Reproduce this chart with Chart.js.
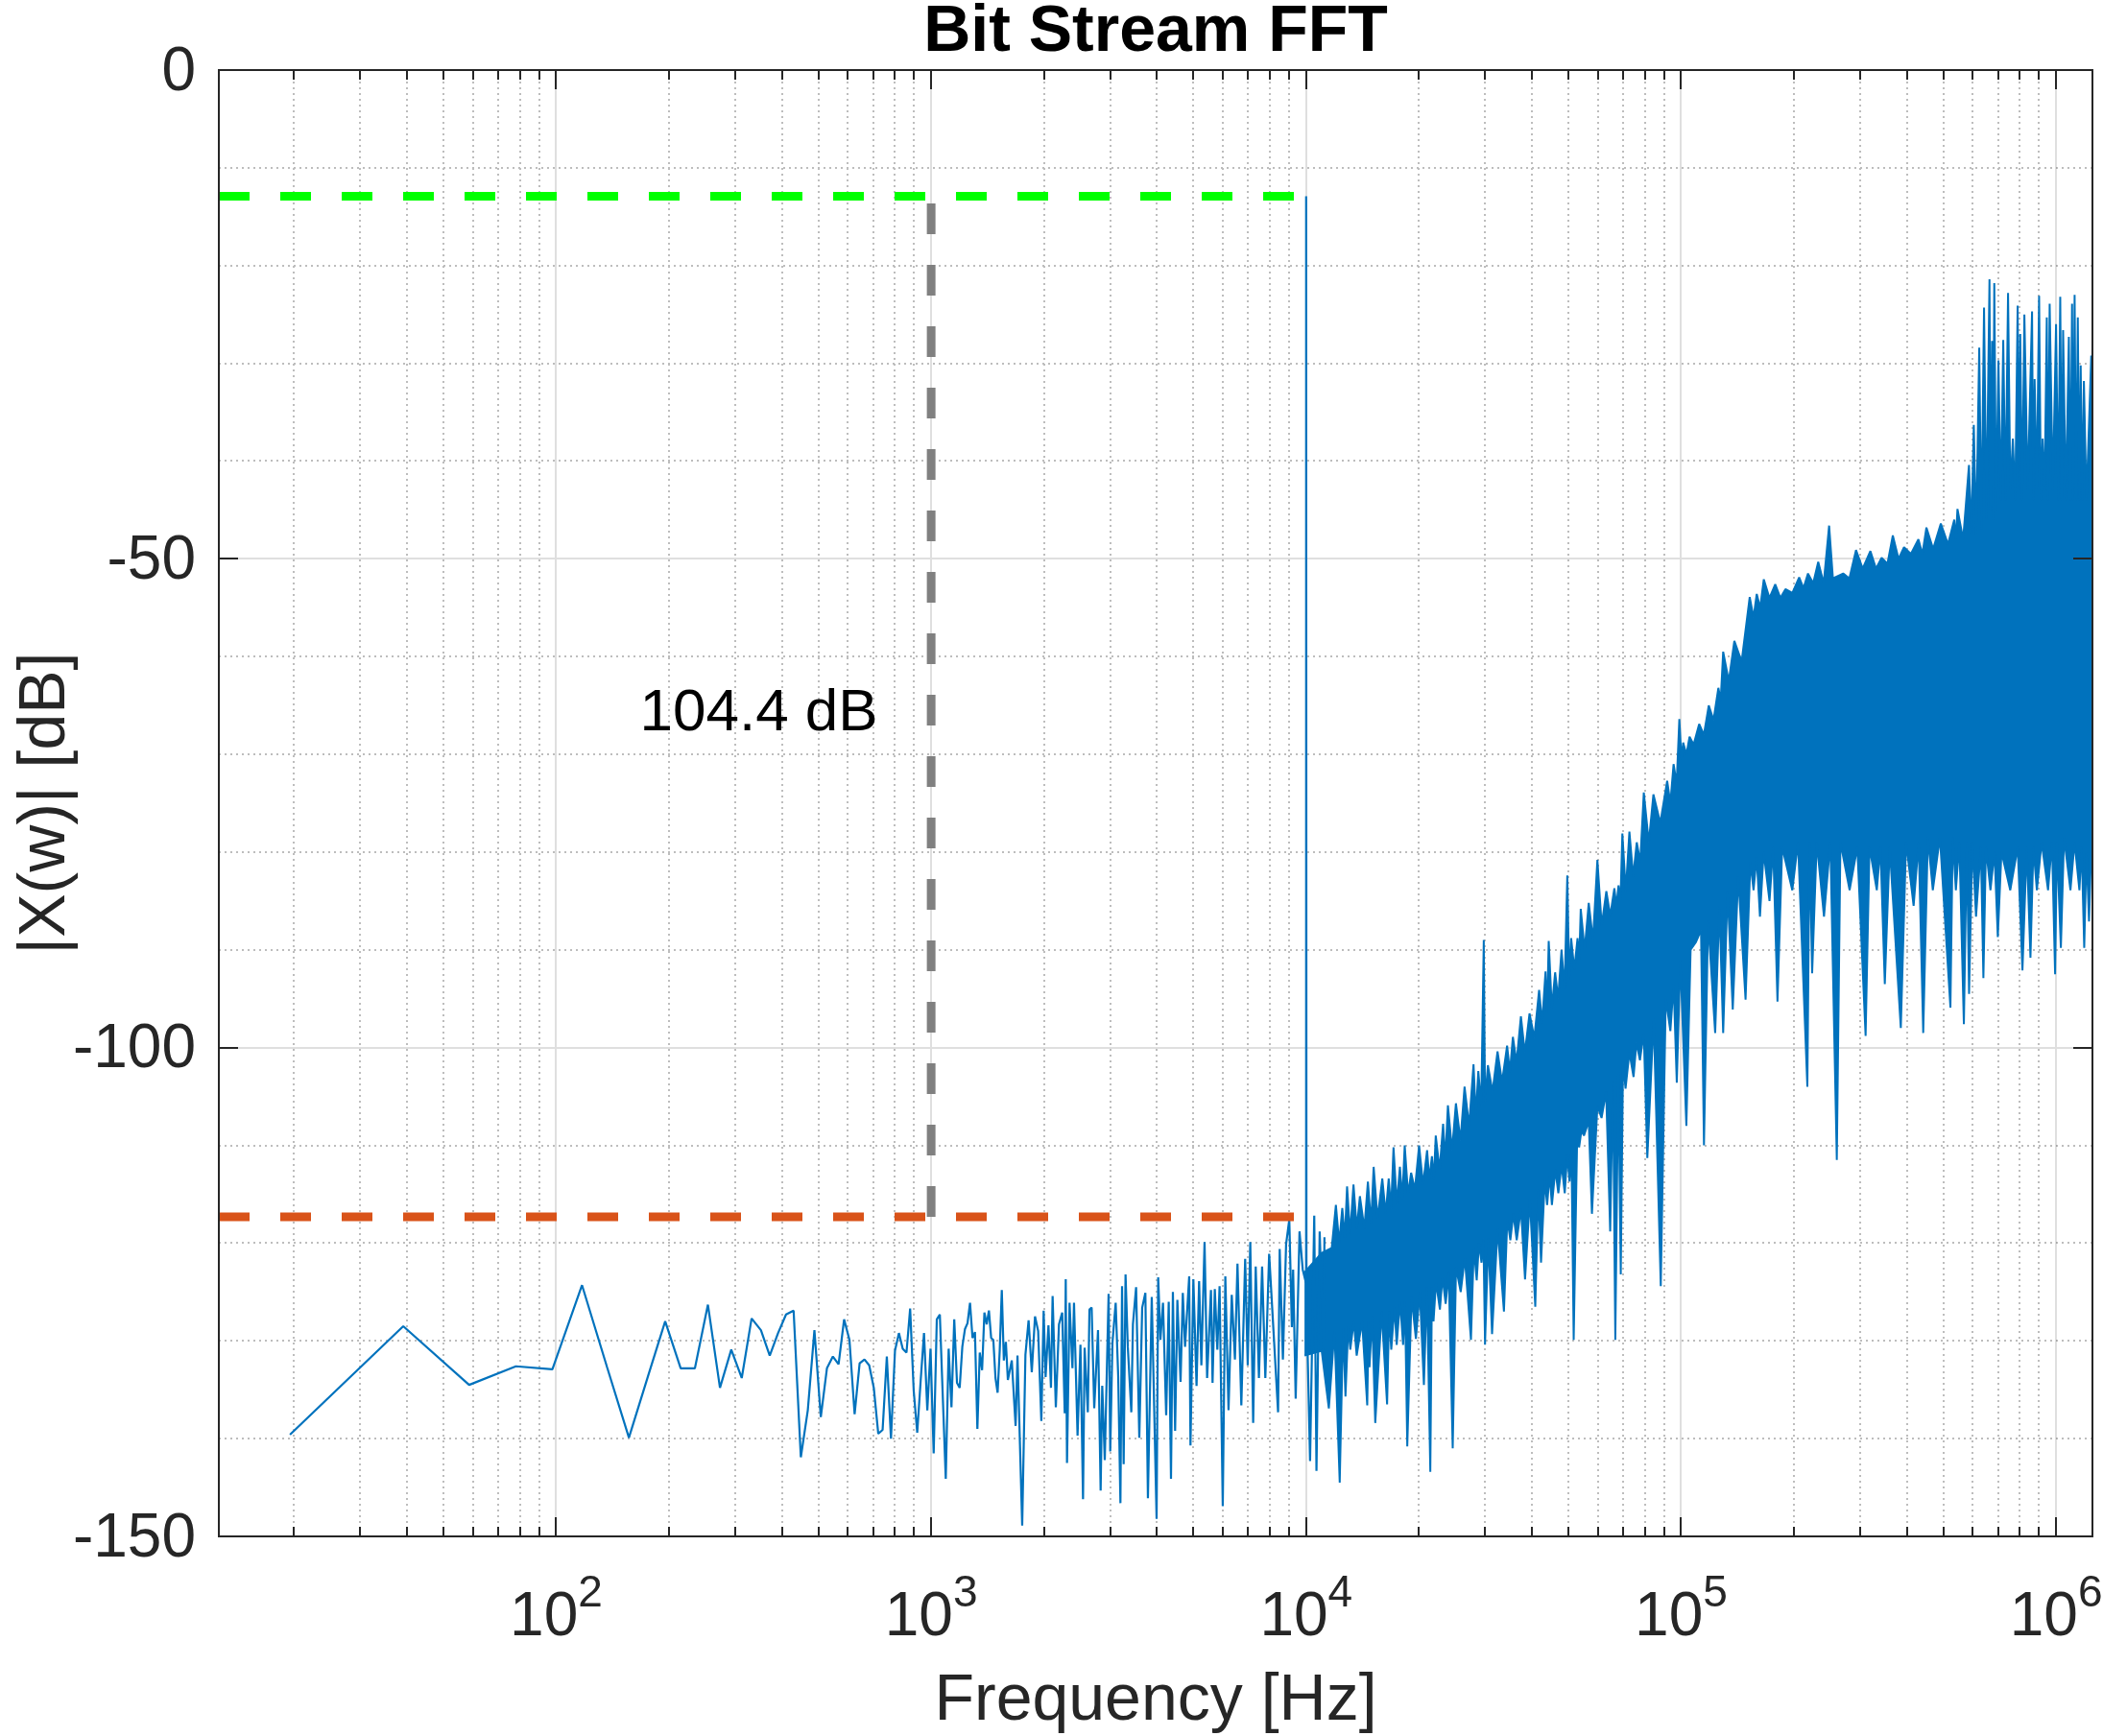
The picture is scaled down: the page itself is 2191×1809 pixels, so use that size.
<!DOCTYPE html>
<html>
<head>
<meta charset="utf-8">
<title>Bit Stream FFT</title>
<script src="https://cdn.jsdelivr.net/npm/chart.js@4.4.1/dist/chart.umd.min.js"></script>
<style>
  html, body { margin: 0; padding: 0; background: #fff; }
  canvas { display: block; }
</style>
</head>
<body>
<canvas id="chartFft" width="2191" height="1809"></canvas>
<script>
// ---- data ----
// axis limits and tick labels
const xMin = 12.6;
const xMax = 1.25e6;
const xDecades = [2, 3, 4, 5, 6];
const yTicks = [0, -50, -100, -150];
const yMinorTicks = [-10, -20, -30, -40, -60, -70, -80, -90, -110, -120, -130, -140];

// signal / noise floor markers
const peakDb = -12.9;
const floorDb = -117.3;
const toneFreq = 10000;
const markFreq = 1000;
const noteText = '104.4 dB';
const noteFreq = 167;
const noteDb = -67.5;

// low bins (every FFT bin is visible here)
const binFreq = [
  19.5, 39.1, 58.6, 78.1, 97.7, 117.2, 136.7, 156.3, 175.8, 195.3,
  214.8, 234.4, 253.9, 273.4, 293.0, 312.5, 332.0, 351.6, 371.1, 390.6,
  410.2, 429.7, 449.2, 468.8, 488.3, 507.8, 527.3, 546.9, 566.4, 585.9,
  605.5, 625.0, 644.5, 664.1, 683.6, 703.1, 722.7, 742.2, 761.7, 781.3,
  800.8, 820.3, 839.8, 859.4, 878.9, 898.4, 918.0, 937.5, 957.0, 976.6,
  996.1, 1015.6, 1035.2, 1054.7, 1074.2, 1093.8, 1113.3, 1132.8, 1152.3, 1171.9,
  1191.4, 1210.9, 1230.5, 1250.0, 1269.5, 1289.1, 1308.6, 1328.1, 1347.7, 1367.2,
  1386.7, 1406.3, 1425.8, 1445.3, 1464.8, 1484.4, 1503.9, 1523.4, 1543.0, 1562.5,
  1582.0, 1601.6, 1640.6, 1679.7, 1699.2
];
const binDb = [
  -139.6, -128.5, -134.5, -132.6, -132.9, -124.3, -132.7, -139.9, -133.6, -128.0,
  -132.8, -132.8, -126.3, -134.8, -130.9, -133.8, -127.7, -128.9, -131.5, -129.2,
  -127.3, -126.9, -141.9, -137.1, -128.9, -137.8, -132.8, -131.6, -132.4, -127.8,
  -129.9, -137.5, -132.3, -131.9, -132.5, -134.8, -139.5, -139.1, -131.6, -140.0,
  -131.0, -129.2, -130.8, -131.2, -126.7, -135.1, -139.4, -134.1, -129.2, -137.1,
  -130.8, -141.5, -127.8, -127.3, -135.8, -144.1, -130.8, -136.8, -127.8, -134.3,
  -134.8, -130.6, -128.8, -128.2, -126.1, -129.7, -129.1, -139.0, -131.2, -133.0,
  -127.1, -128.3, -126.9, -129.7, -129.9, -133.8, -135.3, -131.0, -124.8, -132.0,
  -130.1, -134.0, -132.0, -138.7, -131.5
];

// 1.7 kHz - 11 kHz: visible peaks and troughs, with the 10 kHz tone
const midFreq = [
  1749, 1784, 1819, 1855, 1892, 1929, 1967, 1995, 2019, 2055,
  2087, 2108, 2150, 2192, 2236, 2271, 2285, 2303, 2339, 2381,
  2404, 2457, 2501, 2541, 2566, 2617, 2643, 2679, 2722, 2786,
  2831, 2859, 2904, 2973, 3003, 3044, 3105, 3154, 3197, 3229,
  3261, 3299, 3345, 3418, 3452, 3520, 3590, 3654, 3726, 3785,
  3875, 3992, 4031, 4087, 4152, 4234, 4301, 4361, 4412, 4473,
  4535, 4625, 4689, 4754, 4877, 4915, 5003, 5102, 5183, 5255,
  5359, 5444, 5574, 5629, 5707, 5797, 5877, 5993, 6088, 6209,
  6333, 6458, 6560, 6717, 6877, 6986, 7096, 7223, 7337, 7483,
  7631, 7783, 7968, 8418, 8501, 8670, 8842, 9017, 9160, 9232,
  9378, 9601, 9792, 9980, 10000, 10020, 10245, 10510, 10655, 10866,
  11124, 11190
];
const midDb = [
  -148.9, -131.4, -127.9, -133.2, -127.5, -129.0, -138.2, -126.9, -133.7, -128.4,
  -134.8, -125.4, -136.8, -128.3, -127.1, -137.4, -123.7, -142.5, -126.1, -132.8,
  -126.1, -139.7, -130.4, -146.2, -130.7, -137.3, -126.8, -126.6, -136.9, -128.9,
  -145.3, -134.6, -142.2, -125.2, -141.3, -130.2, -126.1, -133.7, -146.6, -124.4,
  -142.6, -123.2, -130.6, -137.3, -128.3, -124.5, -139.9, -126.6, -125.1, -146.1,
  -125.5, -148.2, -123.5, -129.9, -126.1, -137.6, -126.0, -144.1, -125.0, -139.2,
  -125.8, -134.2, -125.1, -130.6, -123.4, -140.7, -123.7, -134.6, -123.9, -132.5,
  -119.9, -133.8, -124.8, -134.3, -124.7, -130.9, -124.4, -146.9, -123.4, -137.1,
  -125.3, -131.9, -122.1, -136.6, -121.6, -132.5, -119.9, -138.4, -122.4, -133.8,
  -122.4, -133.8, -121.1, -137.3, -120.6, -131.9, -120.1, -117.6, -128.6, -122.7,
  -135.9, -118.8, -122.7, -124.0, -12.9, -126.0, -142.3, -117.2, -143.3, -118.8,
  -130.9, -119.4
];

// dense part (10 kHz - 1.25 MHz): upper edge of the blue mass, spike tips and notches
const upperFreq = [
  9900, 11000, 11700, 12004, 12250, 12485, 12680, 12858,
  13100, 13374, 13650, 13910, 14300, 14611, 14900, 15137, 15500, 15962,
  16300, 16603, 16850, 17100, 17450, 17785, 18050, 18317, 18700, 19051,
  19500, 20011, 20500, 21018, 21300, 21647, 21900, 22164, 22700, 23188,
  23500, 23883, 24500, 25085, 25800, 26452, 27200, 27949, 28350, 28784,
  29300, 29764, 30000, 30530, 31400, 32390, 33300, 34350, 34950, 35590,
  36400, 37390, 38300, 39420, 40600, 41810, 42600, 43490, 43900, 44350,
  45200, 46130, 47000, 47980, 48900, 49710, 50300, 50900, 51900, 52940,
  53500, 53990, 55300, 56710, 58200, 59800, 61400, 63180, 64700, 66370,
  67200, 68090, 68900, 69710, 71200, 72790, 74500, 76150, 77800, 79520,
  82000, 84350, 88000, 91790, 93600, 95470, 97300, 98910, 100200, 101260,
  103300, 105320, 108000, 111720, 115000, 118500, 122000, 125700, 127500, 129470,
  134000, 138660, 145000, 152370, 156000, 159100, 162500, 166140, 172000, 178230,
  184000, 189760, 198000, 206440, 212000, 217950, 225000, 232090, 240000, 248140,
  254000, 270550, 281000, 292680, 305000, 319740, 331000, 342520, 355000, 366900,
  380000, 393020, 410000, 429370, 440000, 451000, 470000, 492700, 515000, 535100,
  540500, 545720, 565000, 585750, 594000, 603270, 612000, 623760, 632000, 642430,
  652000, 664260, 669000, 674780, 679000, 684130, 692000, 701850, 712000, 722840,
  733000, 744480, 755000, 766750, 778000, 789700, 796000, 802220, 812000, 822980,
  840000, 862730, 869000, 876400, 888000, 900860, 911000, 920550, 932000, 944380,
  952000, 961220, 980000, 999770, 1013000, 1025700, 1035000, 1043900, 1062000, 1081500,
  1092000, 1102900, 1110000, 1120400, 1131000, 1142600, 1153000, 1163000, 1174000, 1186100,
  1205000, 1241000, 1246000, 1250000
];
const upperDb = [
  -123.0, -121.0, -120.5, -116.1, -120.0, -116.4, -119.5, -114.2,
  -119.0, -114.0, -118.5, -115.2, -118.5, -113.7, -118.0, -112.2, -117.5, -113.4,
  -117.0, -113.4, -116.5, -110.2, -116.0, -112.2, -115.5, -110.0, -115.0, -112.8,
  -114.5, -110.0, -114.0, -110.5, -113.5, -111.1, -113.5, -109.0, -112.5, -107.8,
  -111.5, -105.9, -110.5, -105.7, -109.5, -104.0, -108.0, -101.7, -107.0, -102.4,
  -106.0, -89.0, -105.5, -101.8, -104.5, -100.4, -103.5, -99.8, -102.5, -98.9,
  -101.5, -96.8, -100.5, -96.5, -99.0, -94.1, -97.5, -92.2, -96.5, -89.1,
  -96.0, -92.3, -95.0, -90.0, -94.0, -82.4, -93.0, -88.8, -92.0, -88.8,
  -91.0, -85.8, -90.0, -85.2, -89.0, -80.8, -87.5, -84.0, -86.5, -83.7,
  -85.5, -83.4, -85.0, -78.1, -84.0, -77.9, -82.5, -79.0, -81.0, -73.9,
  -79.0, -74.1, -77.0, -72.7, -75.0, -71.0, -73.0, -66.4, -70.5, -68.8,
  -70.0, -68.2, -69.0, -66.9, -68.0, -65.0, -66.5, -63.2, -64.5, -59.5,
  -62.5, -58.4, -60.5, -53.9, -56.0, -53.6, -55.0, -52.1, -54.0, -52.6,
  -54.0, -53.1, -53.5, -51.9, -53.0, -51.5, -52.5, -50.3, -52.5, -46.6,
  -52.0, -51.5, -52.0, -49.1, -51.0, -49.2, -51.0, -49.9, -50.5, -47.6,
  -50.0, -48.8, -49.5, -48.0, -49.5, -46.8, -49.0, -46.4, -48.5, -46.0,
  -48.0, -44.9, -48.0, -40.4, -47.5, -36.3, -47.5, -28.4, -47.0, -24.3,
  -46.0, -21.4, -45.0, -27.7, -46.0, -21.8, -45.0, -29.7, -44.0, -27.6,
  -44.0, -22.8, -43.0, -37.7, -44.0, -24.1, -43.0, -27.0, -44.0, -25.0,
  -43.0, -24.7, -44.0, -31.6, -43.0, -23.1, -44.0, -37.7, -43.0, -25.3,
  -44.0, -23.9, -43.0, -26.0, -44.0, -23.2, -44.0, -26.6, -44.0, -27.3,
  -44.0, -23.9, -44.0, -23.0, -44.0, -25.3, -44.0, -30.2, -44.0, -31.8,
  -44.0, -29.2, -40.0, -27.5
];

// dense part: lower edge of the blue mass, dips and notches
const lowerFreq = [
  9900, 11000, 11496, 11900, 12290, 12550, 12732, 12950,
  13114, 13400, 13639, 14100, 14553, 14680, 14755, 15000, 15286, 15900,
  16440, 16650, 16866, 17200, 17439, 17800, 18137, 18350, 18607, 19100,
  19621, 20100, 20609, 21000, 21436, 21650, 21861, 22200, 22737, 23100,
  23556, 24000, 24597, 25100, 25836, 26500, 27513, 28000, 28503, 28900,
  29356, 29700, 29997, 30600, 31320, 32400, 33690, 34400, 35040, 35700,
  36440, 37400, 38350, 39500, 40840, 41600, 42310, 43300, 43920, 44600,
  45230, 46200, 47050, 48000, 48940, 49700, 50400, 51000, 51700, 52800,
  53460, 54200, 55060, 56700, 57830, 59800, 61350, 63100, 64690, 65800,
  66760, 68000, 69030, 70000, 71090, 72800, 74670, 76000, 77660, 79500,
  81260, 84500, 88250, 91000, 93610, 95500, 97370, 99500, 103270, 106000,
  109545, 113000, 115060, 118000, 123260, 126500, 129460, 133000, 137310, 142000,
  148540, 153000, 156000, 159000, 162270, 166000, 172080, 176000, 180700, 186000,
  197930, 205000, 217100, 220000, 223580, 230000, 240450, 250000, 260120, 266000,
  281400, 295000, 310460, 318000, 332560, 340000, 349310, 360000, 385380, 398000,
  416900, 430000, 442220, 455000, 469080, 490000, 522630, 530000, 540380, 552000,
  567600, 578000, 586000, 598000, 611620, 630000, 639900, 650000, 668190, 685000,
  699090, 715000, 754780, 790000, 813340, 835000, 854290, 870000, 888540, 915000,
  951830, 975000, 993870, 1005000, 1029700, 1050000, 1092100, 1120000, 1153900, 1170000,
  1188500, 1205000, 1224100, 1240000, 1250000
];
const lowerDb = [
  -131.5, -131.0, -136.9, -129.0, -144.5, -128.5, -135.7, -128.5,
  -130.9, -128.0, -131.5, -128.0, -136.6, -128.0, -132.7, -127.5, -138.4, -127.0,
  -136.5, -127.0, -130.9, -126.5, -130.4, -126.0, -130.4, -126.0, -140.8, -125.5,
  -129.8, -125.0, -134.5, -124.5, -143.4, -124.5, -128.0, -124.0, -126.8, -123.5,
  -126.2, -123.0, -141.0, -122.5, -125.0, -121.5, -129.9, -120.5, -123.8, -120.0,
  -122.0, -119.5, -130.4, -119.5, -129.3, -118.5, -127.0, -117.5, -119.7, -117.0,
  -119.7, -116.5, -123.7, -115.5, -126.5, -114.5, -122.0, -113.5, -116.1, -113.0,
  -116.1, -112.5, -114.9, -112.0, -114.9, -111.0, -113.7, -110.5, -129.9, -109.5,
  -110.2, -108.5, -109.0, -107.5, -117.0, -106.0, -107.2, -104.5, -118.8, -103.5,
  -129.9, -102.5, -123.2, -101.5, -104.2, -100.5, -103.0, -99.5, -101.3, -98.5,
  -111.3, -97.0, -124.4, -95.0, -98.3, -93.5, -103.6, -91.0, -108.0, -90.0,
  -89.2, -88.0, -110.0, -87.0, -98.5, -85.5, -98.5, -84.0, -96.1, -82.5,
  -95.1, -81.0, -83.9, -80.5, -86.6, -80.0, -85.0, -79.5, -95.3, -79.5,
  -83.9, -79.0, -104.0, -79.0, -92.4, -79.0, -86.6, -79.0, -111.5, -79.0,
  -83.9, -79.5, -98.8, -79.5, -83.9, -79.5, -93.5, -79.5, -98.0, -79.0,
  -85.5, -79.0, -98.5, -78.5, -83.9, -78.5, -95.9, -78.5, -83.9, -79.0,
  -97.6, -79.0, -94.5, -79.0, -86.6, -79.5, -92.9, -79.5, -83.9, -80.0,
  -88.7, -80.0, -83.9, -79.5, -92.1, -79.5, -90.8, -79.5, -83.9, -79.0,
  -83.9, -79.0, -92.5, -79.0, -89.8, -78.5, -83.9, -79.0, -83.9, -79.5,
  -89.8, -80.0, -87.1, -80.0, -80.2
];

// ---- styling ----
const FONT = '"Liberation Sans", Arial, Helvetica, sans-serif';
const AXIS_COLOR = '#262626';
const TRACE_COLOR = '#0072BD';
const MAJOR_GRID = 'rgba(38,38,38,0.15)';
const MINOR_GRID = 'rgba(38,38,38,0.30)';

function toPoints(fs, dbs) {
  return fs.map((f, i) => ({ x: f, y: dbs[i] }));
}

const traceFreq = binFreq.concat(midFreq);
const traceDb = binDb.concat(midDb);

// minor positions 2..9 in each decade, inside the axis range
const xMinorTicks = [];
for (let d = 1; d <= 6; d++) {
  for (let m = 2; m <= 9; m++) {
    const v = m * Math.pow(10, d);
    if (v > xMin && v < xMax) xMinorTicks.push(v);
  }
}

const matlabAxes = {
  id: 'matlabAxes',
  beforeDatasetsDraw(chart) {
    const { ctx, chartArea: a, scales: { x, y } } = chart;
    ctx.save();
    ctx.lineWidth = 2;

    ctx.strokeStyle = MINOR_GRID;
    ctx.setLineDash([2, 4]);
    ctx.beginPath();
    xMinorTicks.forEach(v => {
      const px = Math.round(x.getPixelForValue(v));
      ctx.moveTo(px, a.top); ctx.lineTo(px, a.bottom);
    });
    yMinorTicks.forEach(v => {
      const py = Math.round(y.getPixelForValue(v));
      ctx.moveTo(a.left, py); ctx.lineTo(a.right, py);
    });
    ctx.stroke();

    ctx.setLineDash([]);
    ctx.strokeStyle = MAJOR_GRID;
    ctx.beginPath();
    xDecades.forEach(d => {
      const px = Math.round(x.getPixelForValue(Math.pow(10, d)));
      ctx.moveTo(px, a.top); ctx.lineTo(px, a.bottom);
    });
    yTicks.forEach(v => {
      const py = Math.round(y.getPixelForValue(v));
      ctx.moveTo(a.left, py); ctx.lineTo(a.right, py);
    });
    ctx.stroke();
    ctx.restore();
  },
  afterDraw(chart) {
    const { ctx, chartArea: a, scales: { x, y } } = chart;
    ctx.save();

    // box and inward ticks
    ctx.strokeStyle = AXIS_COLOR;
    ctx.lineWidth = 2;
    ctx.strokeRect(a.left, a.top, a.right - a.left, a.bottom - a.top);
    ctx.beginPath();
    xDecades.forEach(d => {
      const px = Math.round(x.getPixelForValue(Math.pow(10, d)));
      ctx.moveTo(px, a.bottom); ctx.lineTo(px, a.bottom - 20);
      ctx.moveTo(px, a.top); ctx.lineTo(px, a.top + 20);
    });
    xMinorTicks.forEach(v => {
      const px = Math.round(x.getPixelForValue(v));
      ctx.moveTo(px, a.bottom); ctx.lineTo(px, a.bottom - 10);
      ctx.moveTo(px, a.top); ctx.lineTo(px, a.top + 10);
    });
    yTicks.forEach(v => {
      const py = Math.round(y.getPixelForValue(v));
      ctx.moveTo(a.left, py); ctx.lineTo(a.left + 20, py);
      ctx.moveTo(a.right, py); ctx.lineTo(a.right - 20, py);
    });
    ctx.stroke();

    // y tick labels
    ctx.fillStyle = AXIS_COLOR;
    ctx.font = '64px ' + FONT;
    ctx.textAlign = 'right';
    ctx.textBaseline = 'middle';
    yTicks.forEach(v => {
      ctx.fillText(String(v), a.left - 24, y.getPixelForValue(v) + 3);
    });

    // x tick labels 10^n
    ctx.textAlign = 'left';
    ctx.textBaseline = 'alphabetic';
    xDecades.forEach(d => {
      const px = x.getPixelForValue(Math.pow(10, d));
      ctx.font = '64px ' + FONT;
      const wBase = ctx.measureText('10').width;
      ctx.font = '46px ' + FONT;
      const wExp = ctx.measureText(String(d)).width;
      const left = px - (wBase + wExp) / 2;
      ctx.font = '64px ' + FONT;
      ctx.fillText('10', left, a.bottom + 103);
      ctx.font = '46px ' + FONT;
      ctx.fillText(String(d), left + wBase, a.bottom + 73);
    });

    // axis titles
    const midX = (a.left + a.right) / 2;
    const midY = (a.top + a.bottom) / 2;
    ctx.font = '68px ' + FONT;
    ctx.textAlign = 'center';
    ctx.fillText('Frequency [Hz]', midX, a.bottom + 191);
    ctx.save();
    ctx.translate(a.left - 161, midY);
    ctx.rotate(-Math.PI / 2);
    ctx.fillText('|X(w)| [dB]', 0, 0);
    ctx.restore();

    // title
    ctx.fillStyle = '#000000';
    ctx.font = 'bold 68px ' + FONT;
    ctx.fillText('Bit Stream FFT', midX, a.top - 20);

    // annotation
    ctx.font = '62px ' + FONT;
    ctx.textAlign = 'left';
    ctx.fillText(noteText, x.getPixelForValue(noteFreq), y.getPixelForValue(noteDb));

    ctx.restore();
  }
};

const dashed = (label, points, color) => ({
  label: label,
  data: points,
  borderColor: color,
  borderWidth: 9,
  borderDash: [32, 32],
  borderCapStyle: 'butt',
  pointRadius: 0,
  order: 0
});

new Chart(document.getElementById('chartFft'), {
  type: 'line',
  data: {
    datasets: [
      dashed('noise floor', [{ x: xMin, y: floorDb }, { x: toneFreq, y: floorDb }], '#D95319'),
      dashed('signal level', [{ x: xMin, y: peakDb }, { x: toneFreq, y: peakDb }], '#00FF00'),
      dashed('span', [{ x: markFreq, y: floorDb }, { x: markFreq, y: peakDb }], '#808080'),
      {
        label: 'spectrum',
        data: toPoints(traceFreq, traceDb),
        borderColor: TRACE_COLOR,
        borderWidth: 2.2,
        borderJoinStyle: 'bevel',
        pointRadius: 0,
        tension: 0,
        fill: false,
        order: 1
      },
      {
        label: 'spectrum lower edge',
        data: toPoints(lowerFreq, lowerDb),
        borderColor: TRACE_COLOR,
        borderWidth: 2,
        borderJoinStyle: 'bevel',
        pointRadius: 0,
        fill: false,
        order: 2
      },
      {
        label: 'spectrum upper edge',
        data: toPoints(upperFreq, upperDb),
        borderColor: TRACE_COLOR,
        backgroundColor: TRACE_COLOR,
        borderWidth: 2,
        borderJoinStyle: 'bevel',
        pointRadius: 0,
        fill: '-1',
        order: 2
      }
    ]
  },
  options: {
    responsive: false,
    animation: false,
    devicePixelRatio: 1,
    layout: { padding: { left: 228, top: 73, right: 11, bottom: 208 } },
    plugins: {
      legend: { display: false },
      title: { display: false },
      tooltip: { enabled: false }
    },
    scales: {
      x: { type: 'logarithmic', min: xMin, max: xMax, display: false },
      y: { type: 'linear', min: -150, max: 0, display: false }
    }
  },
  plugins: [matlabAxes]
});
</script>
</body>
</html>
